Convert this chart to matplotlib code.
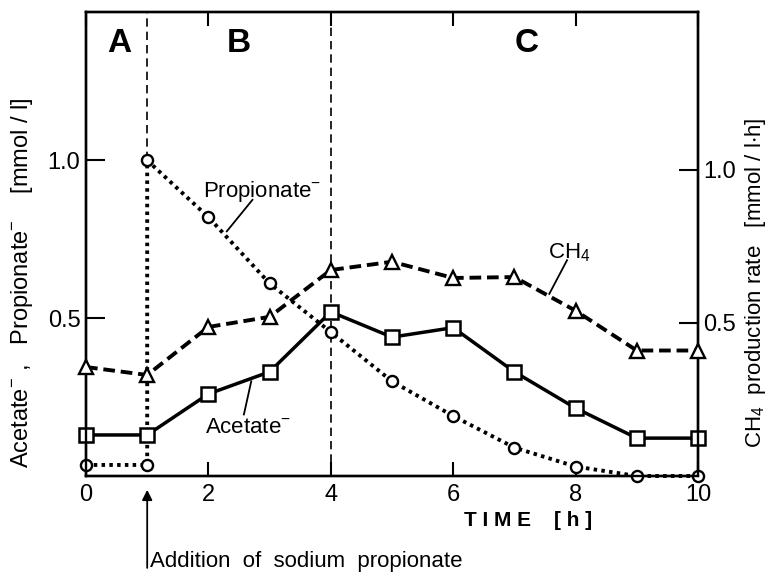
import matplotlib
matplotlib.use("Agg")
import matplotlib.pyplot as plt

plt.rcParams['font.family'] = ['Liberation Sans Narrow', 'Liberation Sans', 'DejaVu Sans']
plt.rcParams['mathtext.default'] = 'regular'

# data
prop_t = [0, 1, 1, 2, 3, 4, 5, 6, 7, 8, 9, 10]
prop_v = [0.035, 0.035, 1.0, 0.82, 0.61, 0.456, 0.30, 0.19, 0.09, 0.03, 0.0, 0.0]
acet_t = [0, 1, 2, 3, 4, 5, 6, 7, 8, 9, 10]
acet_v = [0.13, 0.13, 0.26, 0.33, 0.52, 0.44, 0.47, 0.33, 0.215, 0.12, 0.12]
ch4_t = [0, 1, 2, 3, 4, 5, 6, 7, 8, 9, 10]
ch4_v = [0.356, 0.33, 0.487, 0.52, 0.673, 0.70, 0.647, 0.65, 0.54, 0.41, 0.41]
xticks = [0, 2, 4, 6, 8, 10]
yticks = [0.5, 1.0]
phase_lines = [1, 4]

fig = plt.figure(figsize=(7.7, 5.73), dpi=100)
ax = fig.add_axes([86/770, 1-476/573, (698-86)/770, (476-12)/573])
ax2 = ax.twinx()

ax.set_xlim(0, 10)
ax.set_ylim(0, 1.47)
ax2.set_ylim(0, 1.516)

for a in (ax, ax2):
    for s in a.spines.values():
        s.set_linewidth(1.7)

# phase lines
ax.plot([phase_lines[0]]*2, [1.0, 1.47], color='black', lw=1.2, ls=(0, (5, 3)), zorder=1)
ax.plot([phase_lines[1]]*2, [0, 1.47], color='black', lw=1.2, ls=(0, (5, 3)), zorder=1)

# series
ax.plot(prop_t, prop_v, color='black', lw=2.8, ls=(0, (0.9, 1.1)), marker='o', ms=8,
        mfc='white', mec='black', mew=1.7, zorder=3, clip_on=False)
ax.plot(acet_t, acet_v, color='black', lw=2.5, ls='-', marker='s', ms=10.5,
        mfc='white', mec='black', mew=1.8, zorder=4, clip_on=False)
ax2.plot(ch4_t, ch4_v, color='black', lw=2.8, ls=(0, (3, 1.5)), marker='^', ms=10.5,
         mfc='white', mec='black', mew=1.7, zorder=4, clip_on=False)

# ticks
ax.set_xticks(xticks)
ax.set_xticklabels([str(x) for x in xticks])
ax.set_yticks(yticks)
ax.set_yticklabels(['0.5', '1.0'])
ax2.set_yticks(yticks)
ax2.set_yticklabels(['0.5', '1.0'])
ax.tick_params(axis='x', direction='in', length=10, width=1.5, top=True, labelsize=17, pad=6)
ax.tick_params(axis='y', direction='in', length=14, width=1.5, labelsize=17, pad=4)
ax2.tick_params(axis='y', direction='in', length=14, width=1.5, labelsize=17, pad=4)

# phase letters
for lbl, xv in [('A', 0.55), ('B', 2.5), ('C', 7.2)]:
    ax.text(xv, 1.37, lbl, ha='center', va='center', fontsize=24, fontweight='bold')

# series labels with leaders
ax.text(2.88, 0.9, 'Propionate$^{-}$', ha='center', va='center', fontsize=16)
ax.plot([2.30, 2.72], [0.775, 0.875], color='black', lw=1.3)
ax.text(2.65, 0.155, 'Acetate$^{-}$', ha='center', va='center', fontsize=16)
ax.plot([2.58, 2.70], [0.195, 0.30], color='black', lw=1.3)
ax2.text(7.9, 0.73, 'CH$_4$', ha='center', va='center', fontsize=16)
ax2.plot([7.57, 7.86], [0.595, 0.705], color='black', lw=1.3)

# axis labels
fig.text(22/770, 1-283/573, 'Acetate$^{-}$ ,   Propionate$^{-}$    [mmol / l]',
         rotation=90, ha='center', va='center', fontsize=17)
fig.text(756/770, 1-283/573, 'CH$_4$  production rate   [mmol / l$\\cdot$h]',
         rotation=90, ha='center', va='center', fontsize=16)
fig.text(528/770, 1-521/573, 'T I M E    [ h ]', ha='center', va='center',
         fontsize=15, fontweight='bold')

# addition annotation
ax.annotate('', xy=(1, -0.035), xytext=(1, -0.3), xycoords='data', textcoords='data',
            arrowprops=dict(arrowstyle='-|>', color='black', lw=1.3, mutation_scale=15),
            annotation_clip=False)
fig.text(150/770, 1-561/573, 'Addition  of  sodium  propionate', ha='left', va='center',
         fontsize=16)

fig.savefig('out.png', dpi=100)
